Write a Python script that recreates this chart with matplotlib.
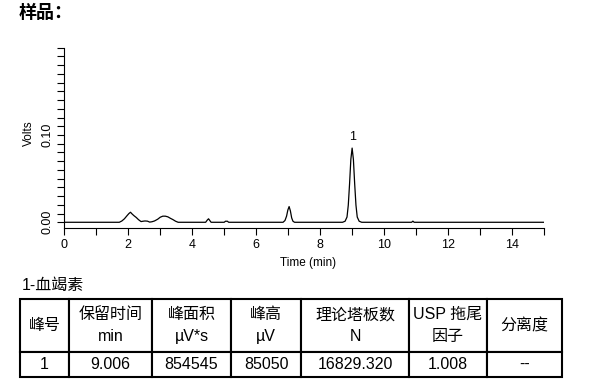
import matplotlib
matplotlib.use('Agg')
import matplotlib.pyplot as plt
from matplotlib.ticker import MultipleLocator, FixedLocator

plt.rcParams['font.family'] = ['Liberation Sans', 'Noto Sans CJK SC', 'DejaVu Sans']

# chromatogram trace (time in min, signal in volts)
time_min = [0.0, 1.72, 1.80, 1.88, 1.96, 2.02, 2.07, 2.12, 2.18, 2.25, 2.32, 2.40,
            2.46, 2.52, 2.60, 2.67, 2.74, 2.82, 2.92, 3.00, 3.08, 3.16, 3.24, 3.32,
            3.40, 3.48, 3.56, 4.42, 4.47, 4.51, 4.55, 4.59, 5.00, 5.04, 5.10, 5.14,
            6.84, 6.90, 6.95, 6.99, 7.03, 7.07, 7.11, 7.15, 7.20,
            8.70, 8.78, 8.84, 8.88, 8.92, 8.96, 9.00, 9.04, 9.08, 9.12, 9.16, 9.22, 9.30,
            10.86, 10.90, 10.94, 15.0]
volts = [0.0, 0.0, 0.0015, 0.004, 0.0075, 0.0100, 0.0115, 0.0095, 0.0075, 0.0055, 0.0030, 0.0008,
         0.0012, 0.0015, 0.0013, 0.0002, 0.0006, 0.0015, 0.0035, 0.0058, 0.0070, 0.0070, 0.0062, 0.0045,
         0.0030, 0.0012, 0.0, 0.0, 0.0025, 0.0040, 0.0020, 0.0, 0.0, 0.0012, 0.0012, 0.0,
         0.0, 0.002, 0.007, 0.014, 0.018, 0.013, 0.005, 0.0012, 0.0,
         0.0, 0.0012, 0.0060, 0.0196, 0.044, 0.072, 0.085, 0.072, 0.044, 0.0196, 0.0060, 0.0012, 0.0,
         0.0, 0.0013, 0.0, 0.0]

peak_time = 9.00
peak_volts = 0.085
peak_name = '1'
y_labels = [0.0, 0.10]

compound = '1-血竭素'
headers = ['峰号', '保留时间\nmin', '峰面积\nµV*s', '峰高\nµV', '理论塔板数\nN', 'USP 拖尾\n因子', '分离度']
row = ['1', '9.006', '854545', '85050', '16829.320', '1.008', '--']
col_w = [49, 83, 79, 70, 108, 78, 75]

fig = plt.figure(figsize=(5.9, 3.82), dpi=100)

ax = fig.add_axes([64.3 / 590, 1 - 228.3 / 382, (544 - 64.3) / 590, (228.3 - 47.7) / 382])
ax.plot(time_min, volts, color='black', lw=0.9)
ax.set_xlim(0, 15)
ax.set_ylim(-0.0069, 0.2)
ax.xaxis.set_major_locator(MultipleLocator(2))
ax.xaxis.set_minor_locator(MultipleLocator(1))
ax.yaxis.set_major_locator(FixedLocator(y_labels))
ax.yaxis.set_minor_locator(MultipleLocator(0.01))
ax.yaxis.set_major_formatter(lambda v, p: f'{v:.2f}')
ax.tick_params(which='both', direction='out', length=5, width=0.8, labelsize=9, pad=3)
ax.tick_params(axis='y', labelrotation=90)
for lab in ax.get_yticklabels():
    lab.set_va('center')
for s in ['top', 'right']:
    ax.spines[s].set_visible(False)
ax.spines['left'].set_linewidth(0.8)
ax.spines['bottom'].set_linewidth(0.8)

ax.annotate(peak_name, xy=(peak_time, peak_volts), xytext=(0, 8), textcoords='offset points',
            ha='center', va='center', fontsize=9)

fig.text(29 / 590, 1 - 133 / 382, 'Volts', rotation=90, ha='center', va='center', fontsize=8.5)
fig.text(308 / 590, 1 - 263 / 382, 'Time (min)', ha='center', va='center', fontsize=8.5)
fig.text(19 / 590, 1 - 13 / 382, '样品：', ha='left', va='center', fontsize=13, fontweight='bold')
fig.text(22 / 590, 1 - 285 / 382, compound, ha='left', va='center', fontsize=11.5)

# results table
tax = fig.add_axes([0, 0, 1, 1])
tax.axis('off')
tax.set_xlim(0, 1)
tax.set_ylim(0, 1)
tot = sum(col_w)
tbl = tax.table(cellText=[headers, row], colWidths=[w / tot for w in col_w],
                cellLoc='center', bbox=[20 / 590, 5 / 382, tot / 590, 78 / 382])
tbl.auto_set_font_size(False)
tbl.set_fontsize(11.5)
for (r, c), cell in tbl.get_celld().items():
    cell.set_linewidth(1.5)
    cell.set_height(53 if r == 0 else 25)
    cell.get_text().set_linespacing(1.55)

fig.savefig('out.png', dpi=100)
